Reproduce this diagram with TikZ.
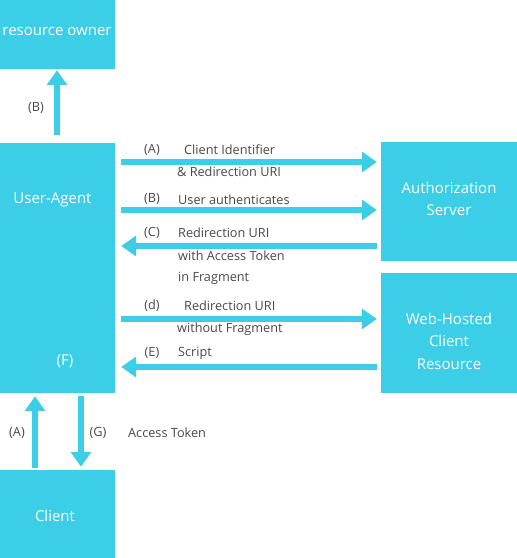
\documentclass[tikz,border=0pt]{standalone}
\usepackage{fontspec}
\setmainfont{Open Sans}
\usetikzlibrary{arrows.meta,calc}
\definecolor{cy}{RGB}{59,206,230}
\definecolor{lbl}{RGB}{72,72,72}
\tikzset{
  box/.style={fill=cy,draw=none,inner sep=0pt,text=white,font=\fontsize{15}{22.5}\selectfont,align=center},
  arr/.style={draw=cy,line width=6.5pt,-{Triangle[length=15pt,width=20pt]}},
  lab/.style={text=lbl,font=\fontsize{12.7}{15}\selectfont,inner sep=0pt},
}
\begin{document}
\begin{tikzpicture}[x=1pt,y=-1pt]
\useasboundingbox (0,0) rectangle (517,558);
% boxes
\node[box,minimum width=115pt,minimum height=69pt] (ro) at (57.5,34.5) {};
\node[box,minimum width=115pt,minimum height=250pt] (ua) at (57.5,268) {};
\node[box,minimum width=115pt,minimum height=88pt] (cl) at (57.5,514) {};
\node[box,minimum width=136pt,minimum height=119pt] (as) at (449,201.5) {};
\node[box,minimum width=136pt,minimum height=120pt] (wh) at (449,333) {};
% box texts
\node[box,fill=none] (rot) at (57,31) {resource owner};
\node[box,fill=none] (uat) at (52.5,200) {User-Agent};
\node[box,fill=none] (uaf) at (65,361) {(F)};
\node[box,fill=none] (clt) at (55,516) {Client};
\node[box,fill=none] (ast) at (449,199) {Authorization\\Server};
\node[box,fill=none] (wht) at (449,341) {Web-Hosted\\Client\\Resource};
% y levels
\coordinate (yA) at (0,162);
\coordinate (yB) at (0,210);
\coordinate (yC) at (0,246);
\coordinate (yD) at (0,319);
\coordinate (yE) at (0,367);
\coordinate (xB) at (57,0);
\coordinate (xA) at (35,0);
\coordinate (xG) at (81,0);
% arrows
\draw[arr,shorten <=8pt,shorten >=1pt] (ua.north -| xB) -- (ro.south -| xB);
\draw[arr,shorten <=6pt,shorten >=4pt] (ua.east |- yA) -- (as.west |- yA);
\draw[arr,shorten <=6pt,shorten >=4pt] (ua.east |- yB) -- (as.west |- yB);
\draw[arr,shorten <=4pt,shorten >=6pt] (as.west |- yC) -- (ua.east |- yC);
\draw[arr,shorten <=6pt,shorten >=4pt] (ua.east |- yD) -- (wh.west |- yD);
\draw[arr,shorten <=4pt,shorten >=6pt] (wh.west |- yE) -- (ua.east |- yE);
\draw[arr,shorten <=2pt,shorten >=3pt] (cl.north -| xA) -- (ua.south -| xA);
\draw[arr,shorten <=3pt,shorten >=3pt] (ua.south -| xG) -- (cl.north -| xG);
% labels
\node[lab] (lB1) at (36,108) {(B)};
\node[lab] (lA) at (152,150) {(A)};
\node[lab,anchor=west] (tA1) at (184,150) {Client Identifier};
\node[lab,anchor=west] (tA2) at (177,172) {\& Redirection URI};
\node[lab] (lB) at (152,199) {(B)};
\node[lab,anchor=west] (tB) at (178,200) {User authenticates};
\node[lab] (lC) at (152,233) {(C)};
\node[lab,anchor=west] (tC1) at (178,233) {Redirection URI};
\node[lab,anchor=west] (tC2) at (178,256) {with Access Token};
\node[lab,anchor=west] (tC3) at (178,278) {in Fragment};
\node[lab] (lD) at (152,306) {(d)};
\node[lab,anchor=west] (tD1) at (184,306) {Redirection URI};
\node[lab,anchor=west] (tD2) at (177,329) {without Fragment};
\node[lab] (lE) at (152,353) {(E)};
\node[lab,anchor=west] (tE) at (178,353) {Script};
\node[lab] (lA2) at (17,433) {(A)};
\node[lab] (lG) at (98,433) {(G)};
\node[lab,anchor=west] (tG) at (128,433) {Access Token};
\end{tikzpicture}
\end{document}
